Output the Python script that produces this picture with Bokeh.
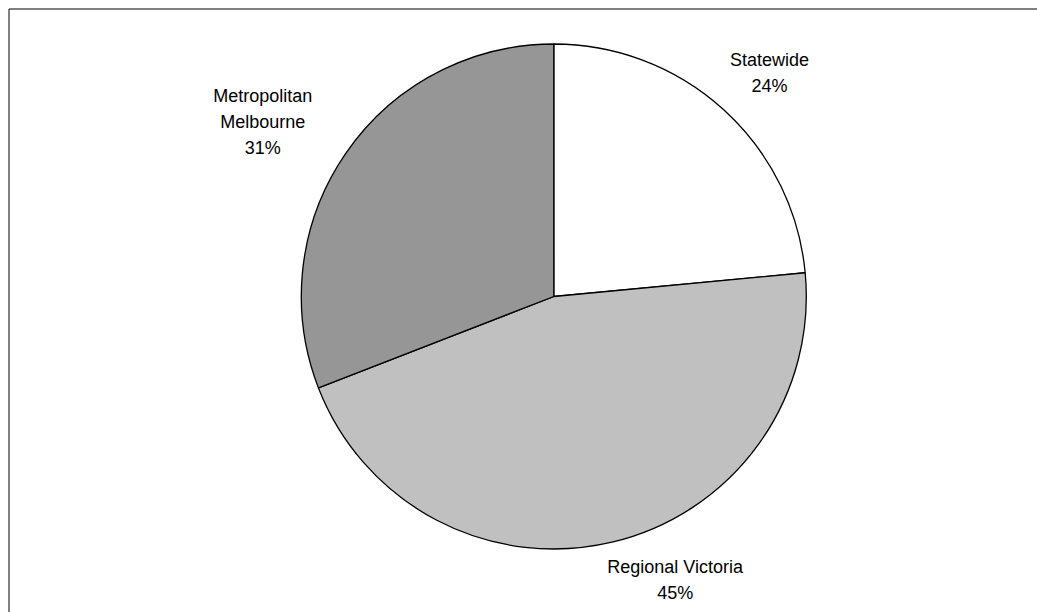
import numpy as np
from bokeh.plotting import figure
from bokeh.models import Range1d, BoxAnnotation, ColumnDataSource
from bokeh.core.properties import value
from bokeh.embed import file_html
from bokeh.resources import INLINE

# ---- data ----
categories = ["Statewide", "Regional Victoria", "Metropolitan Melbourne"]
shares = [23.5, 45.6, 30.9]
pct_labels = ["24%", "45%", "31%"]
label_names = ["Statewide", "Regional Victoria", "Metropolitan\nMelbourne"]
colors = ["#ffffff", "#c0c0c0", "#969696"]

# ---- layout ----
W, H = 1037, 612
cx, cy, R = 553.3, 316.0, 252.5
label_offsets = [(45.8, -37.0), (63.2, 37.4), (-82.6, -32.4)]  # screen px from slice edge midpoint

p = figure(width=W, height=H, output_backend="svg", toolbar_location=None,
           x_range=Range1d(0, W), y_range=Range1d(0, H), min_border=0)
p.axis.visible = False
p.grid.visible = False
p.outline_line_color = None
p.background_fill_color = "white"
p.border_fill_color = "white"

# chart area frame (only its top and left edges fall inside the window)
p.add_layout(BoxAnnotation(left=8.5, top=H - 8.5, right=W + 50, bottom=-50,
                           fill_alpha=0, line_color="black", line_alpha=1.0,
                           line_width=1, level="underlay"))

fr = np.array(shares) / np.sum(shares)
ends = np.pi / 2 - 2 * np.pi * np.cumsum(fr)
starts = ends + 2 * np.pi * fr
mids = (starts + ends) / 2

src = ColumnDataSource(dict(cat=categories, start=starts, end=ends, color=colors))
p.wedge(x=cx, y=cy, radius=R, start_angle="start", end_angle="end", direction="clock",
        fill_color="color", line_color="black", line_width=1.3, source=src)

lx = cx + R * np.cos(mids)
ly = cy + R * np.sin(mids)
texts = [f"{n}\n{v}" for n, v in zip(label_names, pct_labels)]
lsrc = ColumnDataSource(dict(x=lx, y=ly, t=texts,
                             xo=[o[0] for o in label_offsets], yo=[o[1] for o in label_offsets]))
p.text(x="x", y="y", text="t", x_offset="xo", y_offset="yo", source=lsrc,
       text_align="center", text_baseline="middle",
       text_font=value("Liberation Sans"), text_font_size="18px",
       text_color="black", text_line_height=1.3)

open("out.html", "w").write(file_html(p, INLINE))
